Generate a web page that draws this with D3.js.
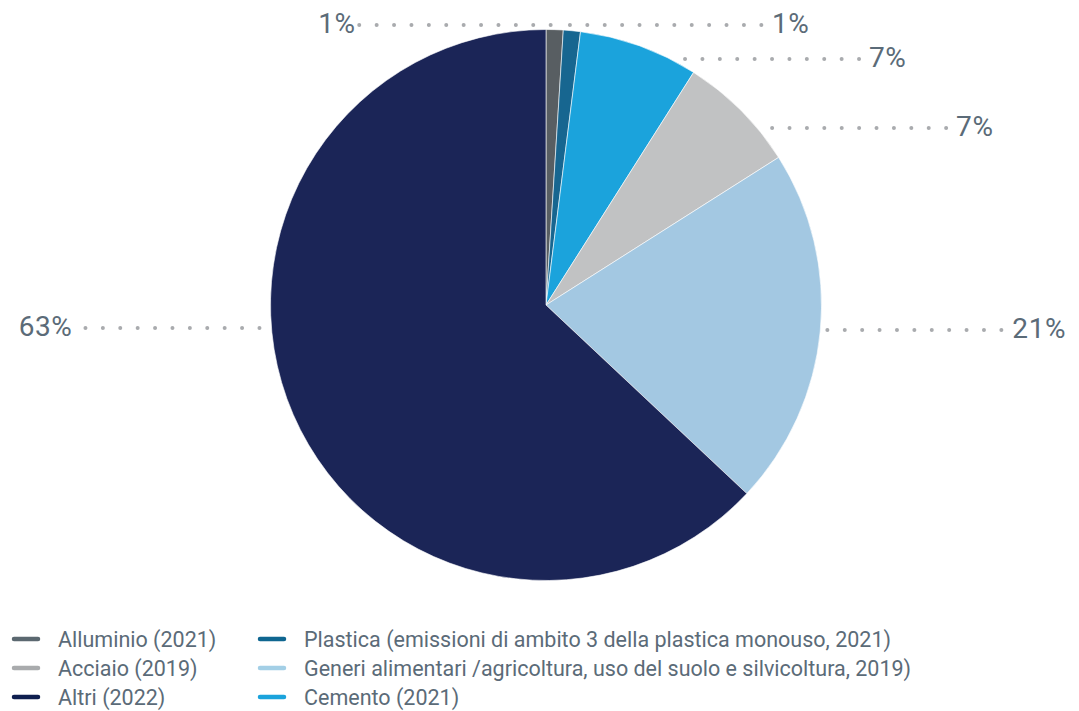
<!DOCTYPE html>
<html>
<head>
<meta charset="utf-8">
<script src="https://cdn.jsdelivr.net/npm/d3@7"></script>
<style>
  html, body { margin: 0; padding: 0; background: #fff; }
  svg { display: block; font-family: Roboto, "Noto Sans", sans-serif; }
</style>
</head>
<body>
<svg id="chart" width="1079" height="711"></svg>
<script>
// Emission shares by sector (percent), clockwise from 12 o'clock
const categories = [
  "Alluminio (2021)",
  "Plastica (emissioni di ambito 3 della plastica monouso, 2021)",
  "Cemento (2021)",
  "Acciaio (2019)",
  "Generi alimentari /agricoltura, uso del suolo e silvicoltura, 2019)",
  "Altri (2022)"
];
const shares = [1, 1, 7, 7, 21, 63];
const sliceColors = ["#585e62", "#176690", "#1ba3dc", "#c1c2c3", "#a3c8e2", "#1b2557"];
const legendColors = ["#5b6870", "#0f6690", "#1ba3dc", "#a9abad", "#a3cfe6", "#0f1f4f"];

// Legend order: two columns of three
const legendOrder = [0, 3, 5, 1, 4, 2];

// Label placement: side of the pie, row of the leader, gap to the rim,
// leader length and gap between leader and text
const labelLayout = [
  { side: "left",  y: 25,  pad: 4,  len: 193, tgap: 2 },
  { side: "right", y: 25,  pad: -2, len: 192, tgap: 10 },
  { side: "right", y: 59,  pad: 15, len: 175, tgap: 9 },
  { side: "right", y: 128, pad: 15, len: 175, tgap: 9 },
  { side: "right", y: 330, pad: 7,  len: 175, tgap: 10 },
  { side: "left",  y: 328, pad: 12, len: 175, tgap: 12 }
];

const svg = d3.select("#chart");
const cx = 546, cy = 305, R = 275.5;
const textColor = "#5b6b78";

const pie = d3.pie().sort(null).value(d => d)(shares);
const arc = d3.arc().innerRadius(0).outerRadius(R);

const g = svg.append("g").attr("transform", `translate(${cx},${cy})`);
g.selectAll("path.slice")
  .data(pie)
  .join("path")
  .attr("class", "slice")
  .attr("d", arc)
  .attr("fill", (d, i) => sliceColors[i])
  .attr("stroke", "#ffffff")
  .attr("stroke-width", 0.6);

// Dotted leaders and percentage labels
const fmt = v => d3.format("d")(v) + "%";
pie.forEach((d, i) => {
  const L = labelLayout[i];
  const ly = L.y - cy;
  let x0;
  if (Math.abs(ly) >= R) {
    // above the pie: start from the slice mid-angle on the rim
    const mid = (d.startAngle + d.endAngle) / 2;
    x0 = R * Math.sin(mid);
  } else {
    x0 = Math.sqrt(R * R - ly * ly) * (L.side === "right" ? 1 : -1);
  }
  const dir = L.side === "right" ? 1 : -1;
  const xs = x0 + dir * L.pad;
  const xe = xs + dir * L.len;
  g.append("line")
    .attr("x1", xs).attr("y1", ly)
    .attr("x2", xe).attr("y2", ly)
    .attr("stroke", "#a9abae")
    .attr("stroke-width", 4)
    .attr("stroke-linecap", "round")
    .attr("stroke-dasharray", "0 17.4");
  g.append("text")
    .attr("x", xe + dir * L.tgap)
    .attr("y", ly + 7.5)
    .attr("text-anchor", L.side === "right" ? "start" : "end")
    .attr("fill", textColor)
    .attr("font-size", 28)
    .attr("letter-spacing", 0.6)
    .text(fmt(d.data));
});

// Legend
const lx = d3.scaleOrdinal().domain([0, 1]).range([12, 258]);
const ly = d3.scalePoint().domain([0, 1, 2]).range([639, 697]);
const leg = svg.append("g");
legendOrder.forEach((k, j) => {
  const col = Math.floor(j / 3), row = j % 3;
  const x = lx(col), y = ly(row);
  leg.append("line")
    .attr("x1", x + 2).attr("x2", x + 26)
    .attr("y1", y).attr("y2", y)
    .attr("stroke", legendColors[k])
    .attr("stroke-width", 4.5)
    .attr("stroke-linecap", "round");
  leg.append("text")
    .attr("x", x + 46)
    .attr("y", y + 7.5)
    .attr("fill", textColor)
    .attr("font-size", 21.5)
    .text(categories[k]);
});
</script>
</body>
</html>
